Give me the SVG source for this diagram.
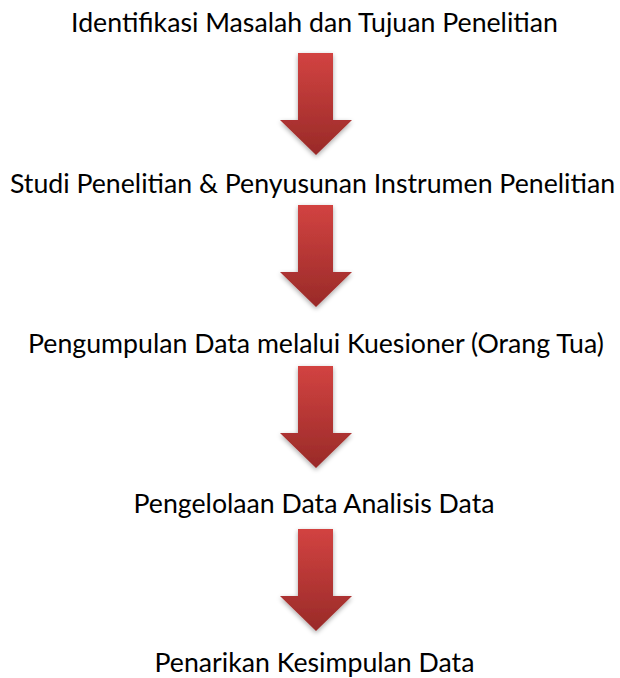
<svg xmlns="http://www.w3.org/2000/svg" width="620" height="678" viewBox="0 0 620 678">
<style>
.t{font-family:Lato,"Open Sans","Liberation Sans",sans-serif;font-size:26.7px;fill:#000;text-anchor:middle}
.a{fill:url(#g);filter:url(#s)}
</style>
<defs>
<linearGradient id="g" x1="0" y1="0" x2="0" y2="1">
<stop offset="0" stop-color="#d24341"/>
<stop offset="1" stop-color="#992a28"/>
</linearGradient>
<filter id="s" x="-30%" y="-20%" width="160%" height="150%">
<feGaussianBlur in="SourceAlpha" stdDeviation="2.5"/>
<feOffset dx="0" dy="2" result="b"/>
<feComponentTransfer><feFuncA type="linear" slope="0.35"/></feComponentTransfer>
<feMerge><feMergeNode/><feMergeNode in="SourceGraphic"/></feMerge>
</filter>
<path id="arr" d="M298,0 H333 V67 H352 L316,102 L280,67 H298 Z"/>
</defs>
<g id="connectors">
<use href="#arr" class="a" transform="translate(0,53)"/>
<use href="#arr" class="a" transform="translate(0,205)"/>
<use href="#arr" class="a" transform="translate(0,366)"/>
<use href="#arr" class="a" transform="translate(0,529)"/>
</g>
<g id="n1"><text class="t" x="314.5" y="31.5">Identifikasi Masalah dan Tujuan Penelitian</text></g>
<g id="n2"><text class="t" x="312.5" y="193">Studi Penelitian &amp; Penyusunan Instrumen Penelitian</text></g>
<g id="n3"><text class="t" x="316" y="353">Pengumpulan Data melalui Kuesioner (Orang Tua)</text></g>
<g id="n4"><text class="t" x="314" y="513">Pengelolaan Data Analisis Data</text></g>
<g id="n5"><text class="t" x="314.5" y="671.5">Penarikan Kesimpulan Data</text></g>
</svg>
